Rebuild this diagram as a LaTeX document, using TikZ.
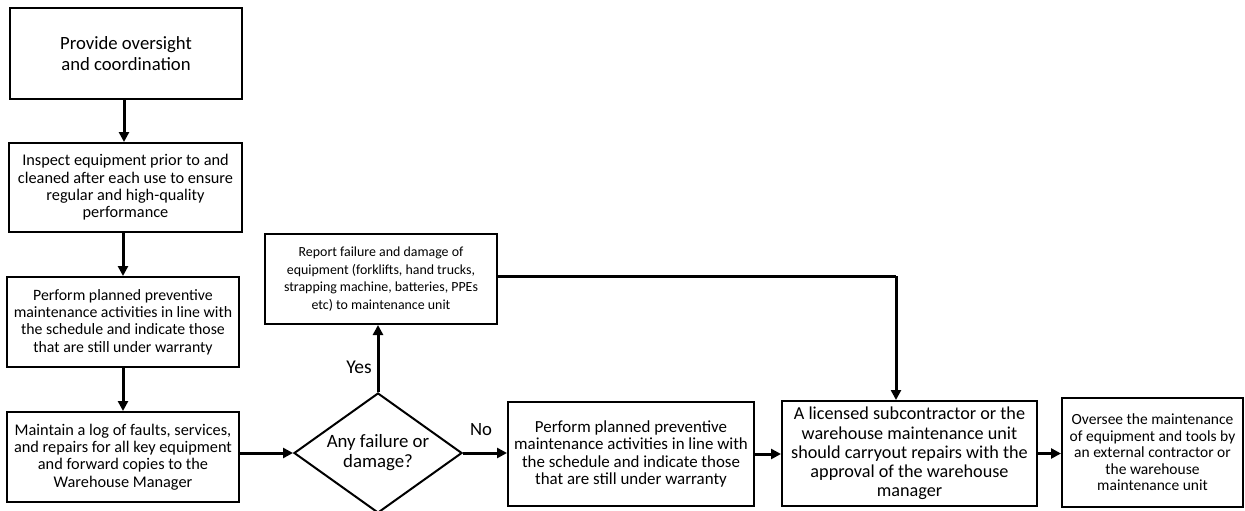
\documentclass[tikz,border=0pt]{standalone}
\usepackage{fontspec}
\setmainfont{Carlito}
\usetikzlibrary{arrows.meta,shapes.geometric}

\tikzset{
  box/.style={draw, line width=2pt, rectangle, inner sep=0pt, align=center},
  decision/.style={draw, line width=2pt, diamond, aspect=1.4, inner sep=0pt,
    minimum width=168pt, minimum height=120pt, align=center},
  conn/.style={line width=3pt, -{Triangle[length=10pt,width=10pt]}},
  plain/.style={line width=3pt},
  txtA/.style={font=\fontsize{18.7}{21.5}\selectfont},
  txtB/.style={font=\fontsize{16.3}{17.4}\selectfont},
  txtBs/.style={font=\fontsize{15.8}{17.4}\selectfont},
  txtBl/.style={font=\fontsize{16.9}{17.4}\selectfont},
  txtC/.style={font=\fontsize{13.9}{17.7}\selectfont},
  txtD/.style={font=\fontsize{18.2}{19.2}\selectfont},
  txtE/.style={font=\fontsize{15.5}{16.5}\selectfont},
  txtF/.style={font=\fontsize{18.8}{20}\selectfont},
}

\begin{document}
\begin{tikzpicture}[x=1pt, y=-1pt]
  \clip (0,0) rectangle (1245,511);
  \fill[white] (0,0) rectangle (1245,511);

  % left column
  \node[box, txtA, minimum width=232pt, minimum height=91pt] (b1) at (126,53.5)
    {Provide oversight\\and coordination};
  \node[box, txtB, minimum width=233pt, minimum height=89pt] (b2) at (125.5,187.5)
    {Inspect equipment prior to and\\cleaned after each use to ensure\\regular and high-quality\\performance};
  \node[box, txtBs, minimum width=232pt, minimum height=90pt] (b3) at (123,322)
    {Perform planned preventive\\maintenance activities in line with\\the schedule and indicate those\\that are still under warranty};
  \node[box, txtB, minimum width=232pt, minimum height=90pt] (b4) at (123,457)
    {Maintain a log of faults, services,\\and repairs for all key equipment\\and forward copies to the\\Warehouse Manager};

  % decision and report
  \node[decision, txtF] (dec) at (378,453)
    {Any failure or\\damage?};
  \node[box, txtC, minimum width=232pt, minimum height=90pt] (rep) at (381,279)
    {Report failure and damage of\\equipment (forklifts, hand trucks,\\strapping machine, batteries, PPEs\\etc) to maintenance unit};

  % bottom row
  \node[box, txtBl, minimum width=246pt, minimum height=104pt] (b5) at (631,454)
    {Perform planned preventive\\maintenance activities in line with\\the schedule and indicate those\\that are still under warranty};
  \node[box, txtD, minimum width=255pt, minimum height=105pt] (b6) at (909.5,453.5)
    {A licensed subcontractor or the\\warehouse maintenance unit\\should carryout repairs with the\\approval of the warehouse\\manager};
  \node[box, txtE, minimum width=181pt, minimum height=109pt] (b7) at (1152.5,452.5)
    {Oversee the maintenance\\of equipment and tools by\\an external contractor or\\the warehouse\\maintenance unit};

  % connectors
  \draw[conn] (b1.south -| 124,0) -- (b2.north -| 124,0);
  \draw[conn] (b2.south -| 123,0) -- (b3.north -| 123,0);
  \draw[conn] (b3) -- (b4);
  \draw[conn] (b4.east |- dec.west) -- (dec.west);
  \draw[conn] (dec.north) -- (dec.north |- rep.south);
  \draw[conn] (dec.east) -- (dec.east -| b5.west);
  \draw[conn] (b5.east) -- (b5.east -| b6.west);
  \draw[conn] (b6.east) -- (b6.east -| b7.west);

  \coordinate (turn) at (896,276);
  \draw[plain] (rep.east |- turn) -- (turn);
  \draw[conn] (turn) -- (turn |- b6.north);

  % branch labels
  \node[inner sep=0pt, font=\fontsize{19.5}{20}\selectfont] (yes) at (359,367) {Yes};
  \node[inner sep=0pt, font=\fontsize{18.7}{20}\selectfont] (no) at (481,430) {No};
\end{tikzpicture}
\end{document}
